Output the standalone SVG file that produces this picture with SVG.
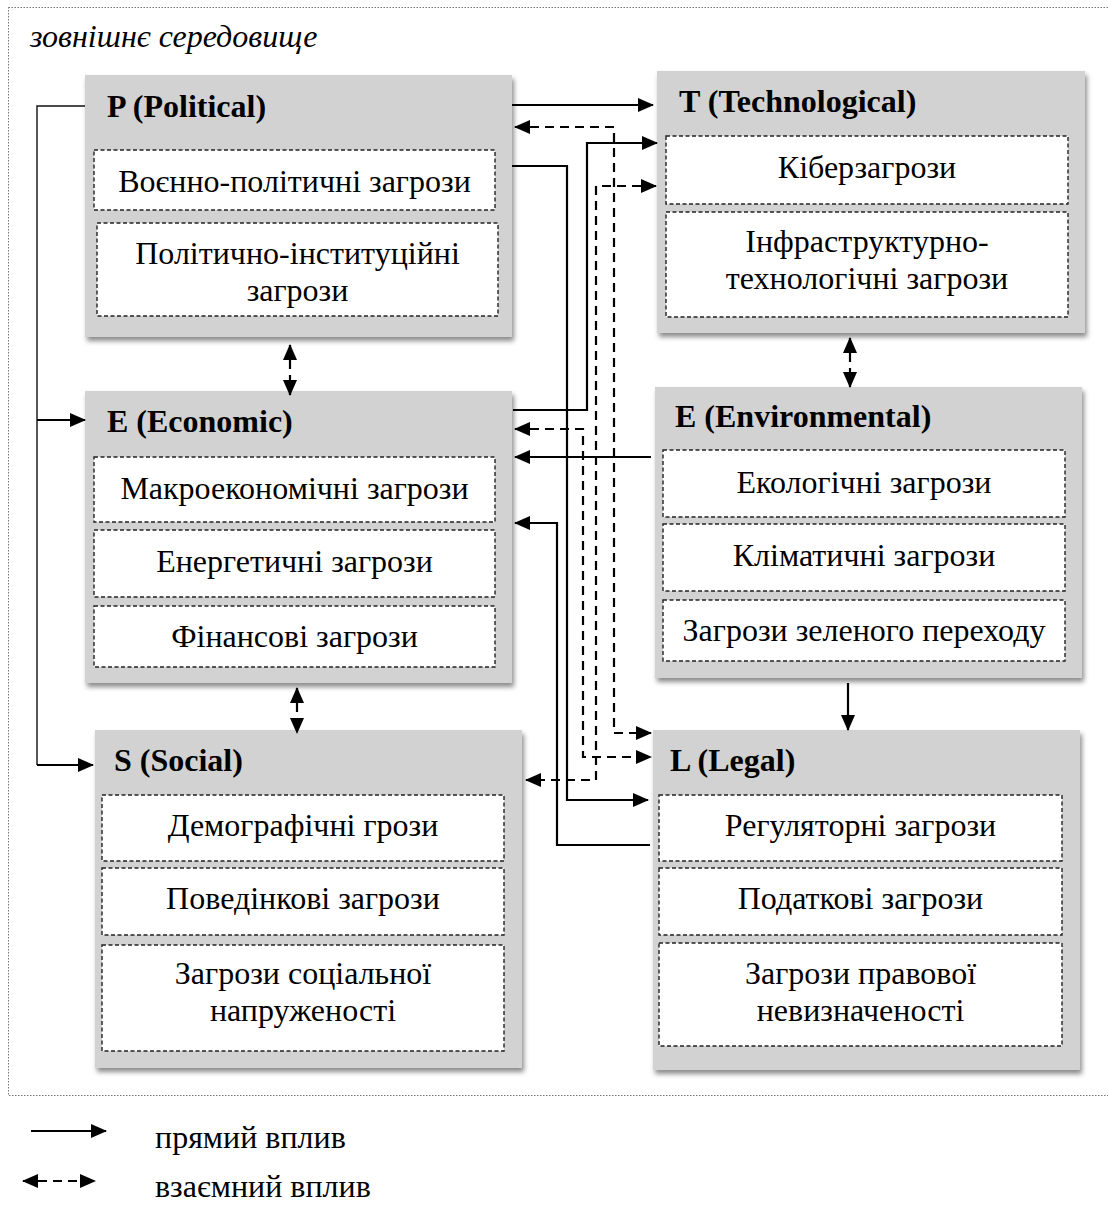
<svg xmlns="http://www.w3.org/2000/svg" width="1108" height="1205" viewBox="0 0 1108 1205">
<defs>
<filter id="sh" x="-5%" y="-5%" width="115%" height="115%">
<feDropShadow dx="2" dy="4" stdDeviation="2.5" flood-color="#000" flood-opacity="0.45"/>
</filter>
<marker id="ah" markerUnits="userSpaceOnUse" markerWidth="16" markerHeight="14" refX="15" refY="7" orient="auto-start-reverse" viewBox="0 0 16 14">
<path d="M0,0 L16,7 L0,14 Z" fill="#000"/>
</marker>
<style>
.box{fill:#d2d2d2;filter:url(#sh)}
.inner{fill:#fff;stroke:#222;stroke-width:1.4;stroke-dasharray:4 2.5}
.title{font-family:"Liberation Serif",serif;font-weight:bold;font-size:32px;fill:#000}
.t{font-family:"Liberation Serif",serif;font-size:32px;fill:#000;text-anchor:middle}
.lg{font-family:"Liberation Serif",serif;font-size:32px;fill:#000}
.c{fill:none;stroke:#000;stroke-width:2.2}
.d{fill:none;stroke:#000;stroke-width:2.2;stroke-dasharray:9 6}
</style>
</defs>
<rect width="1108" height="1205" fill="#fff"/>
<rect x="8.5" y="7.5" width="1110" height="1088" fill="none" stroke="#777" stroke-width="1" stroke-dasharray="1.5 1.5"/>
<text class="lg" x="30" y="47" font-style="italic">зовнішнє середовище</text>

<g id="node-P">
<rect class="box" x="85" y="75" width="427" height="262"/>
<text class="title" x="107" y="117">P (Political)</text>
<rect class="inner" x="94" y="150" width="401" height="60"/>
<text class="t" x="294.5" y="192">Воєнно-політичні загрози</text>
<rect class="inner" x="97" y="223" width="401" height="93"/>
<text class="t" x="297.5" y="264">Політично-інституційні</text>
<text class="t" x="297.5" y="301">загрози</text>
</g>

<g id="node-T">
<rect class="box" x="657" y="71" width="428" height="262"/>
<text class="title" x="679" y="112">T (Technological)</text>
<rect class="inner" x="666" y="136" width="402" height="68"/>
<text class="t" x="867" y="178">Кіберзагрози</text>
<rect class="inner" x="666" y="212" width="402" height="105"/>
<text class="t" x="867" y="252">Інфраструктурно-</text>
<text class="t" x="867" y="289">технологічні загрози</text>
</g>

<g id="node-Econ">
<rect class="box" x="85" y="391" width="427" height="292"/>
<text class="title" x="107" y="432">E (Economic)</text>
<rect class="inner" x="94" y="457" width="401" height="65"/>
<text class="t" x="294.5" y="499">Макроекономічні загрози</text>
<rect class="inner" x="94" y="530" width="401" height="67"/>
<text class="t" x="294.5" y="572">Енергетичні загрози</text>
<rect class="inner" x="94" y="606" width="401" height="61"/>
<text class="t" x="294.5" y="647">Фінансові загрози</text>
</g>

<g id="node-Env">
<rect class="box" x="655" y="387" width="427" height="291"/>
<text class="title" x="675" y="427">E (Environmental)</text>
<rect class="inner" x="663" y="450" width="402" height="67"/>
<text class="t" x="864" y="493">Екологічні загрози</text>
<rect class="inner" x="663" y="524" width="402" height="67"/>
<text class="t" x="864" y="566">Кліматичні загрози</text>
<rect class="inner" x="663" y="600" width="402" height="61"/>
<text class="t" x="864" y="641">Загрози зеленого переходу</text>
</g>

<g id="node-S">
<rect class="box" x="95" y="730" width="427" height="338"/>
<text class="title" x="114" y="771">S (Social)</text>
<rect class="inner" x="102" y="795" width="402" height="66"/>
<text class="t" x="303" y="836">Демографічні грози</text>
<rect class="inner" x="102" y="868" width="402" height="67"/>
<text class="t" x="303" y="909">Поведінкові загрози</text>
<rect class="inner" x="102" y="945" width="402" height="106"/>
<text class="t" x="303" y="984">Загрози соціальної</text>
<text class="t" x="303" y="1021">напруженості</text>
</g>

<g id="node-L">
<rect class="box" x="653" y="730" width="427" height="340"/>
<text class="title" x="670" y="771">L (Legal)</text>
<rect class="inner" x="659" y="795" width="403" height="66"/>
<text class="t" x="860.5" y="836">Регуляторні загрози</text>
<rect class="inner" x="659" y="868" width="403" height="67"/>
<text class="t" x="860.5" y="909">Податкові загрози</text>
<rect class="inner" x="659" y="943" width="403" height="103"/>
<text class="t" x="860.5" y="984">Загрози правової</text>
<text class="t" x="860.5" y="1021">невизначеності</text>
</g>

<g id="connectors">
<path class="c" d="M512,105 H653" marker-end="url(#ah)"/>
<path class="d" d="M515,127 H614 V733 H651" marker-start="url(#ah)" marker-end="url(#ah)"/>
<path class="c" d="M513,410 H587 V143 H657" marker-end="url(#ah)"/>
<path class="c" d="M512,166 H567 V800 H648" marker-end="url(#ah)"/>
<path class="d" d="M656,186 H596 V780 H526" marker-start="url(#ah)" marker-end="url(#ah)"/>
<path class="d" d="M515,429 H583 V757 H651" marker-start="url(#ah)" marker-end="url(#ah)"/>
<path class="c" d="M651,457 H515" marker-end="url(#ah)"/>
<path class="c" d="M650,845 H557 V523 H515" marker-end="url(#ah)"/>
<path d="M85,106 H37 V765" fill="none" stroke="#111" stroke-width="1.4"/>
<path class="c" d="M37,765 H93" marker-end="url(#ah)"/>
<path class="c" d="M37,420 H85" marker-end="url(#ah)"/>
<path class="d" d="M290,345 V395" stroke-dasharray="0 16 6 30" marker-start="url(#ah)" marker-end="url(#ah)"/>
<path class="d" d="M297,688 V733" stroke-dasharray="0 16 5 30" marker-start="url(#ah)" marker-end="url(#ah)"/>
<path class="d" d="M850,338 V387" stroke-dasharray="0 16 6 30" marker-start="url(#ah)" marker-end="url(#ah)"/>
<path class="c" d="M848,683 V730" marker-end="url(#ah)"/>
</g>

<g id="legend">
<path class="c" d="M31,1131 H106" stroke-width="2.8" marker-end="url(#ah)"/>
<text class="lg" x="155" y="1148">прямий вплив</text>
<path class="d" d="M23,1181 H95" stroke-width="2.8" stroke-dasharray="0 17 8 6 8 40" marker-start="url(#ah)" marker-end="url(#ah)"/>
<text class="lg" x="155" y="1197">взаємний вплив</text>
</g>
</svg>
